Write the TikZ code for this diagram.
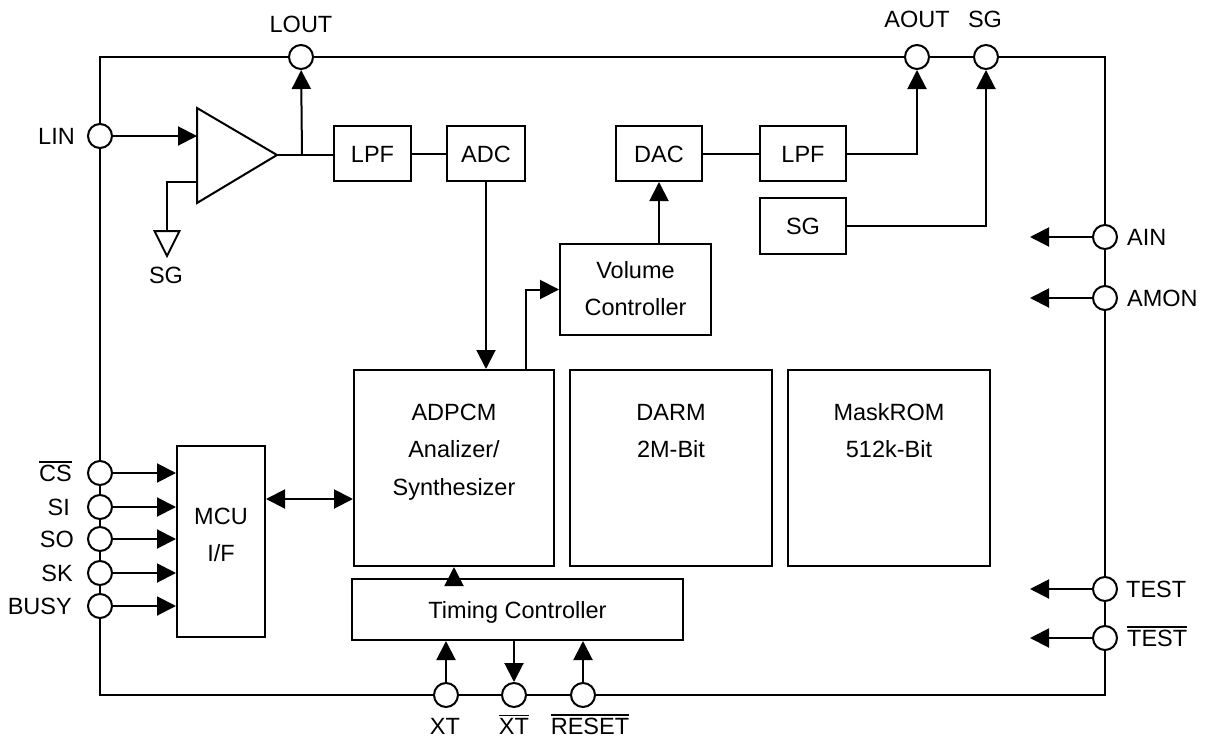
\documentclass[tikz,border=0pt]{standalone}
\usepackage{fontspec}
\setmainfont{Liberation Sans}
\usetikzlibrary{arrows.meta}
\newcommand{\ovl}[1]{\leavevmode\vbox{\hrule height 1.6pt\kern 2.2pt\hbox{#1}}}
\begin{document}
\begin{tikzpicture}[x=1pt,y=-1pt,
  lw/.style={line width=2pt},
  tip/.style={lw,-{Triangle[length=19pt,width=19pt]}},
  dtip/.style={lw,{Triangle[length=19pt,width=19pt]}-{Triangle[length=19pt,width=19pt]}},
  txt/.style={inner sep=0pt,font=\fontsize{23.5}{28}\selectfont,text height=17pt,text depth=0pt},
  blk/.style={draw,lw,fill=white,inner sep=0pt,font=\fontsize{23.5}{28}\selectfont,text height=17pt,text depth=0pt},
  pin/.style={draw,lw,circle,fill=white,minimum size=24pt,inner sep=0pt}]
\fill[white] (0,0) rectangle (1208,742);
\useasboundingbox (0,0) rectangle (1208,742);
% frame
\draw[lw] (100,57) rectangle (1105,695);
% pins
\node[pin] (lout) at (301,57) {};
\node[pin] (aout) at (917,57) {};
\node[pin] (sgp) at (986,57) {};
\node[pin] (lin) at (100,136) {};
\node[pin] (cs) at (100,473) {};
\node[pin] (si) at (100,507) {};
\node[pin] (so) at (100,539) {};
\node[pin] (sk) at (100,573) {};
\node[pin] (busy) at (100,606) {};
\node[pin] (ain) at (1105,237) {};
\node[pin] (amon) at (1105,298) {};
\node[pin] (test) at (1105,589) {};
\node[pin] (testb) at (1105,638) {};
\node[pin] (xt) at (446,695) {};
\node[pin] (xtb) at (514,695) {};
\node[pin] (rst) at (583,695) {};
% pin labels
\node[txt] at (301,24) {LOUT};
\node[txt] at (917,19) {AOUT};
\node[txt] at (985,19) {SG};
\node[txt,anchor=east] at (75,136) {LIN};
\node[txt,anchor=east] at (72,473) {\ovl{CS}};
\node[txt,anchor=east] at (70,507) {SI};
\node[txt,anchor=east] at (74,539) {SO};
\node[txt,anchor=east] at (73,573) {SK};
\node[txt,anchor=east] at (72,606) {BUSY};
\node[txt,anchor=west] at (1127,237) {AIN};
\node[txt,anchor=west] at (1127,298) {AMON};
\node[txt,anchor=west] at (1126,589) {TEST};
\node[txt,anchor=west] at (1127,638) {\ovl{TEST}};
\node[txt] at (445,726) {XT};
\node[txt] at (514,726) {\ovl{XT}};
\node[txt] at (590,726) {\ovl{RESET}};
\node[txt] at (166,275) {SG};
% blocks
\node[blk,minimum width=77pt,minimum height=55pt] (lpf1) at (372.5,153.5) {LPF};
\node[blk,minimum width=78pt,minimum height=55pt] (adc) at (486,153.5) {ADC};
\node[blk,minimum width=86pt,minimum height=55pt] (dac) at (659,153.5) {DAC};
\node[blk,minimum width=86pt,minimum height=55pt] (lpf2) at (803,153.5) {LPF};
\node[blk,minimum width=86pt,minimum height=56pt] (sgb) at (803,226) {SG};
\node[blk,minimum width=151pt,minimum height=91pt] (vc) at (635.5,289.5) {};
\node[txt] at (635.5,270) {Volume};
\node[txt] at (635.5,307) {Controller};
\node[blk,minimum width=200pt,minimum height=196pt] (adpcm) at (454,468) {};
\node[txt] at (454,412) {ADPCM};
\node[txt] at (454,449) {Analizer/};
\node[txt] at (454,487) {Synthesizer};
\node[blk,minimum width=202pt,minimum height=196pt] (darm) at (671,468) {};
\node[txt] at (671,412) {DARM};
\node[txt] at (671,449) {2M-Bit};
\node[blk,minimum width=202pt,minimum height=196pt] (mrom) at (889,468) {};
\node[txt] at (889,412) {MaskROM};
\node[txt] at (889,449) {512k-Bit};
\node[blk,minimum width=88pt,minimum height=191pt] (mcu) at (221,541.5) {};
\node[txt] at (221,516) {MCU};
\node[txt] at (221,553) {I/F};
\node[blk,minimum width=331pt,minimum height=61pt] (tim) at (517.5,609.5) {Timing Controller};
% amplifier
\coordinate (ampa) at (197,108);
\coordinate (ampb) at (197,203);
\coordinate (ampt) at (277,155);
\coordinate (ampin1) at (197,136);
\coordinate (ampin2) at (197,182);
\coordinate (br) at (302,155);
\coordinate (gnd) at (167,231);
\draw[lw,line join=miter] (ampa) -- (ampb) -- (ampt) -- cycle;
\draw[tip] (lin) -- (ampin1);
\draw[lw] (ampt) -- (ampt -| lpf1.west);
\draw[tip] (br) -- (lout);
\draw[lw] (ampin2) -| (gnd);
\draw[lw,line join=miter] (154.5,231) -- (179.5,231) -- (167,256) -- cycle;
% signal chain
\draw[lw] (lpf1) -- (adc);
\draw[tip] (adc.south) -- (adc.south |- adpcm.north);
\coordinate (vcin) at (526,370);
\draw[tip] (vcin) |- (vc.west);
\draw[tip] (vc.north -| dac.south) -- (dac.south);
\draw[lw] (dac) -- (lpf2);
\draw[tip] (lpf2.east) -| (aout);
\draw[tip] (sgb.east) -| (sgp);
\draw[dtip] (mcu.east |- 0,499) -- (adpcm.west |- 0,499);
% MCU pins
\draw[tip] (cs) -- (cs -| mcu.west);
\draw[tip] (si) -- (si -| mcu.west);
\draw[tip] (so) -- (so -| mcu.west);
\draw[tip] (sk) -- (sk -| mcu.west);
\draw[tip] (busy) -- (busy -| mcu.west);
% timing
\draw[tip] (adpcm.south |- tim.north) -- (adpcm.south);
\draw[tip] (xt) -- (xt |- tim.south);
\draw[tip] (xtb |- tim.south) -- (xtb);
\draw[tip] (rst) -- (rst |- tim.south);
% right pins
\coordinate (ainend) at (1030,237);
\coordinate (amonend) at (1030,298);
\coordinate (testend) at (1030,589);
\coordinate (testbend) at (1030,638);
\draw[tip] (ain) -- (ainend);
\draw[tip] (amon) -- (amonend);
\draw[tip] (test) -- (testend);
\draw[tip] (testb) -- (testbend);
\end{tikzpicture}
\end{document}
